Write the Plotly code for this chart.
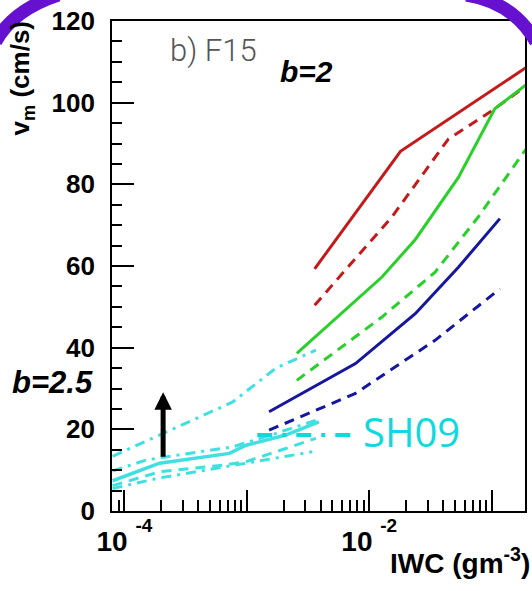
import math
import plotly.graph_objects as go

# ---------------- data ----------------
red_solid_x = [0.00358, 0.0180, 0.2]
red_solid_y = [59.3, 88.1, 109.0]
red_dash_x = [0.00358, 0.0153, 0.0443, 0.1, 0.2]
red_dash_y = [50.4, 72.0, 91.1, 98.0, 104.5]

green_solid_x = [0.00256, 0.0127, 0.0238, 0.0535, 0.106, 0.2]
green_solid_y = [38.6, 57.3, 66.5, 81.7, 98.5, 104.8]
green_dash_x = [0.00256, 0.0127, 0.0345, 0.0776, 0.2]
green_dash_y = [32.0, 47.5, 58.5, 72.0, 89.5]

blue_solid_x = [0.00152, 0.00772, 0.02376, 0.0535, 0.1167]
blue_solid_y = [24.3, 36.1, 48.3, 59.7, 71.6]
blue_dash_x = [0.00152, 0.00772, 0.0345, 0.0605, 0.1167]
blue_dash_y = [19.8, 28.8, 41.8, 47.5, 54.4]

cyan_up_dd_x = [8.0e-5, 7.67e-4, 1.73e-3, 3.66e-3]
cyan_up_dd_y = [13.4, 26.7, 35.0, 39.4]
cyan_mid_dd_x = [8.0e-5, 1.51e-4, 4.11e-4, 7.67e-4, 1.73e-3, 3.66e-3]
cyan_mid_dd_y = [9.8, 12.5, 14.5, 15.7, 19.0, 22.2]
cyan_solid_x = [8.0e-5, 1.94e-4, 7.21e-4, 9.87e-4, 2.08e-3, 3.88e-3]
cyan_solid_y = [7.4, 11.7, 14.1, 16.1, 18.6, 21.8]
cyan_dash_x = [8.0e-5, 1.94e-4, 6.35e-4, 9.87e-4, 2.08e-3, 3.66e-3]
cyan_dash_y = [6.2, 9.6, 11.2, 12.1, 15.3, 17.8]
cyan_low_dd_x = [8.0e-5, 1.94e-4, 7.21e-4, 1.73e-3, 3.43e-3]
cyan_low_dd_y = [5.5, 8.1, 11.0, 12.9, 14.5]

x_major = [1e-4, 1e-3, 1e-2, 1e-1]
EXP = "<span style='font-size:19px;baseline-shift:19px'>{}</span>"
x_major_text = ["10\u00a0" + EXP.format("-4"), "", "10\u00a0" + EXP.format("-2"), ""]
y_ticks = [0, 20, 40, 60, 80, 100, 120]

# ---------------- layout constants ----------------
W, H = 532, 591
L, R, T, B = 112, 5, 21, 80
PW, PH = W - L - R, H - T - B


def px(xp):
    return (xp - L) / PW


def py(yp):
    return (H - B - yp) / PH


RED, GREEN, BLUE, CYAN = "#c41a1a", "#2ad02a", "#16169e", "#40e0e0"
DASH = "10px,7px"
DASHDOT = "10px,6px,3px,6px"

fig = go.Figure()


def add(x, y, color, dash="solid", width=3):
    fig.add_trace(go.Scatter(x=x, y=y, mode="lines",
                             line=dict(color=color, width=width, dash=dash),
                             showlegend=False, hoverinfo="skip"))


add(cyan_up_dd_x, cyan_up_dd_y, CYAN, DASHDOT)
add(cyan_mid_dd_x, cyan_mid_dd_y, CYAN, DASHDOT)
add(cyan_dash_x, cyan_dash_y, CYAN, DASH)
add(cyan_low_dd_x, cyan_low_dd_y, CYAN, DASHDOT)
add(cyan_solid_x, cyan_solid_y, CYAN, "solid", 3.5)
add(blue_dash_x, blue_dash_y, BLUE, DASH)
add(blue_solid_x, blue_solid_y, BLUE)
add(green_dash_x, green_dash_y, GREEN, DASH)
add(red_dash_x, red_dash_y, RED, DASH)
add(green_solid_x, green_solid_y, GREEN)
add(red_solid_x, red_solid_y, RED)

minor_x = [m * 10 ** e for e in range(-5, 0) for m in range(2, 10)]
minor_x = [v for v in minor_x if 8e-5 < v < 0.19]

AX = dict(showline=True, linecolor="black", linewidth=1.8, mirror=True,
          showgrid=False, zeroline=False, ticks="inside",
          tickcolor="black", tickwidth=1.5)
TICKFONT = dict(family="Liberation Sans, Arial", size=26, color="black", weight="bold")

fig.update_xaxes(type="log", range=[-4.1016, -0.7276],
                 tickvals=x_major, ticktext=x_major_text, ticklen=21,
                 tickfont=dict(TICKFONT, size=28), ticklabelstandoff=4,
                 minor=dict(tickvals=minor_x, ticks="inside", ticklen=11,
                            tickwidth=1.5, tickcolor="black"),
                 **AX)
fig.update_yaxes(range=[0, 120], tickvals=y_ticks, ticklen=22,
                 tickfont=TICKFONT, ticklabelstandoff=10,
                 minor=dict(dtick=5, ticks="inside", ticklen=10,
                            tickwidth=1.5, tickcolor="black"),
                 **AX)

BOLD = "Liberation Sans, Arial"
ann = []


def note(text, xp, yp, font, xanchor="center", **kw):
    ann.append(dict(text=text, x=px(xp), y=py(yp), xref="paper", yref="paper",
                    xanchor=xanchor, yanchor="middle", showarrow=False,
                    font=font, **kw))


note("b) F15", 214, 50, dict(family="Roboto", size=31, color="#555", weight=300))
note("<b><i>b=2</i></b>", 307, 71, dict(family=BOLD, size=30, color="black"))
note("<b><i>b=2.5</i></b>", 52, 382, dict(family=BOLD, size=31, color="black"))
note("SH09", 362, 431, dict(family="Open Sans", size=40, color="#10d8dc"), xanchor="left")
note("<b>IWC (gm<sup>-3</sup>)</b>", 534, 561, dict(family=BOLD, size=28, color="black"),
     xanchor="right")
note("<b>v<sub>m</sub> (cm/s)</b>", 22, 78, dict(family=BOLD, size=26, color="black"),
     textangle=-90)
# vertical arrow
ann.append(dict(text="", x=math.log10(2.07e-4), y=29.1, xref="x", yref="y",
                ax=0, ay=66, showarrow=True, arrowhead=2, arrowwidth=5,
                arrowsize=0.7, arrowcolor="black"))
fig.update_layout(annotations=ann)

shapes = []
# SH09 legend sample
shapes.append(dict(type="line", xref="paper", yref="paper",
                   x0=px(258), x1=px(353), y0=py(435), y1=py(435),
                   line=dict(color="#10d8dc", width=4, dash="15px,10px,4px,10px")))
# purple frame arcs
PURPLE = "#6610d0"
left_arc = "M {} {} Q {} {} {} {}".format(px(-5), py(42), px(12), py(10), px(58), py(-5))
right_arc = "M {} {} Q {} {} {} {}".format(px(468), py(-5), px(515), py(2), px(538), py(42))
for p in (left_arc, right_arc):
    shapes.append(dict(type="path", path=p, xref="paper", yref="paper",
                       line=dict(color=PURPLE, width=13)))
fig.update_layout(shapes=shapes)

fig.update_layout(width=W, height=H, margin=dict(l=L, r=R, t=T, b=B, pad=0),
                  paper_bgcolor="white", plot_bgcolor="white", showlegend=False)

fig.write_html("out.html")
